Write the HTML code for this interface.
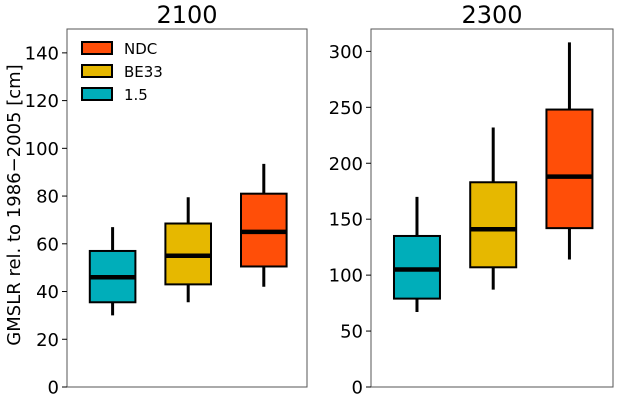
<!DOCTYPE html>
<html><head><meta charset="utf-8"><style>
body{margin:0;background:#fff;font-family:"DejaVu Sans",sans-serif;}
svg text{font-family:"DejaVu Sans",sans-serif;}
</style></head><body>
<svg id="chart" width="619" height="400" xmlns="http://www.w3.org/2000/svg"></svg>
<script>
const scenarios = ["1.5","BE33","NDC"];
const colors = ["#00AEBA","#E6B800","#FF4E08"];
const lo2100 = [30,35.5,42];
const q1_2100 = [35.5,43,50.5];
const med2100 = [46,55,65];
const q3_2100 = [57,68.5,81];
const hi2100 = [67,79.5,93.5];
const lo2300 = [67,87,114];
const q1_2300 = [79,107,142];
const med2300 = [105,141,188];
const q3_2300 = [135,183,248];
const hi2300 = [170,232,308];
const ticks2100 = [0,20,40,60,80,100,120,140];
const ticks2300 = [0,50,100,150,200,250,300];

const svg = document.getElementById('chart');
const NS = "http://www.w3.org/2000/svg";
function mk(tag, attrs, parent){const e=document.createElementNS(NS,tag);for(const k in attrs)e.setAttribute(k,attrs[k]);(parent||svg).appendChild(e);return e;}

function panel(name, x0, x1, ymax, ticks, lo, q1, med, q3, hi, title){
  const yTop=29, yBot=387;
  const g=mk('g',{});
  
  
  const y=v=>yBot-(v/ymax)*(yBot-yTop);
  const w=x1-x0, bw=w*0.19;
  const xc=i=>x0+w*(0.19+0.315*i);
  scenarios.forEach((s,i)=>{
    const c=xc(i);
    const wl=mk('line',{x1:c,x2:c,y1:y(lo[i]),y2:y(hi[i]),stroke:'#000','stroke-width':3},g);
    
    
    const b=mk('rect',{x:c-bw/2,y:y(q3[i]),width:bw,height:y(q1[i])-y(q3[i]),fill:colors[i],stroke:'#000','stroke-width':2},g);
    
    
    const m=mk('line',{x1:c-bw/2,x2:c+bw/2,y1:y(med[i]),y2:y(med[i]),stroke:'#000','stroke-width':4.5},g);
    
    
  });
  const fr=mk('rect',{x:x0,y:yTop,width:w,height:yBot-yTop,fill:'none',stroke:'#555','stroke-width':1},g);
  
  
  ticks.forEach(t=>{
    mk('line',{x1:x0-5,x2:x0,y1:y(t),y2:y(t),stroke:'#000'},g);
    const tx=mk('text',{x:x0-8,y:y(t)+6.5,'text-anchor':'end','font-size':18},g);
    tx.textContent=t;
    
    
  });
  const tt=mk('text',{x:(x0+x1)/2,y:23,'text-anchor':'middle','font-size':24},g);
  tt.textContent=title;
  
  
}
panel('left',67,307,150,ticks2100,lo2100,q1_2100,med2100,q3_2100,hi2100,'2100');
panel('right',371,613,320,ticks2300,lo2300,q1_2300,med2300,q3_2300,hi2300,'2300');

const yl=mk('text',{x:0,y:0,transform:'translate(20,205) rotate(-90)','text-anchor':'middle','font-size':18});
yl.textContent='GMSLR rel. to 1986\u22122005 [cm]';



const legOrder=[2,1,0];
legOrder.forEach((i,k)=>{
  const yy=42+k*23;
  const r=mk('rect',{x:82,y:yy,width:30,height:12,fill:colors[i],stroke:'#000','stroke-width':2});
  
  
  const t=mk('text',{x:124,y:yy+12,'font-size':15});
  t.textContent=scenarios[i];
  
  
});
</script>
</body></html>
